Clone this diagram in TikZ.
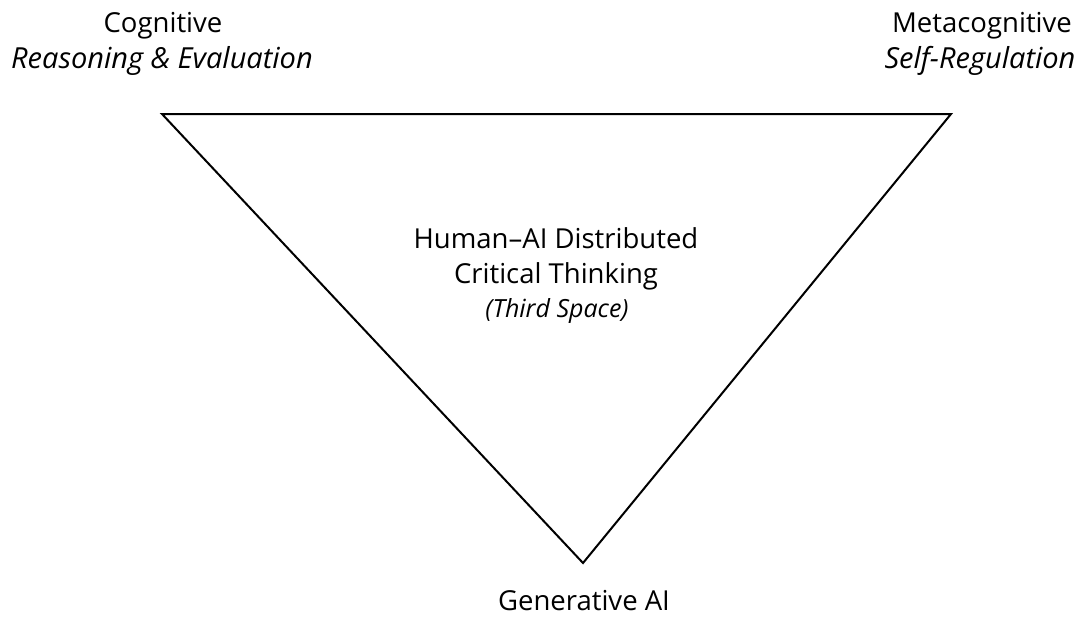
\documentclass[tikz,border=0pt]{standalone}
\usepackage{fontspec}
\setmainfont{Open Sans}
\usetikzlibrary{positioning}
\tikzset{
  txt/.style = {align=center, inner sep=0pt, anchor=base,
    font=\fontsize{27.5}{33}\selectfont},% plain label
  txt_i/.style = {txt, font=\fontsize{29}{34}\selectfont\itshape},% italic label
  txt_s/.style = {txt, font=\fontsize{25}{30}\selectfont\itshape},% small italic
  tri/.style = {draw=black, line width=2pt, line join=miter},
}

\begin{document}
\begin{tikzpicture}[x=1pt,y=-1pt]
  \useasboundingbox (0,0) rectangle (1086,619);
%   corners
  \coordinate (tl) at (162,114);
  \coordinate (tr) at (951,114);
  \coordinate (bt) at (583,563);

%   triangle
  \draw[tri] (tl) -- (tr) -- (bt) -- cycle;

%   corner labels
  \node[txt] (cog) at (163,32) {Cognitive};
  \node[txt_i] (cogsub) at (162,68) {Reasoning \& Evaluation};
  \node[txt] (meta) at (982,32) {Metacognitive};
  \node[txt_i] (metasub) at (980,68) {Self-Regulation};
  \node[txt] (gen) at (584,610) {Generative AI};

%   centre
  \node[txt] (dct1) at (556,248) {Human–AI Distributed};
  \node[txt] (dct2) at (556,283) {Critical Thinking};
  \node[txt_s] (third) at (557,317) {(Third Space)};
\end{tikzpicture}
\end{document}
